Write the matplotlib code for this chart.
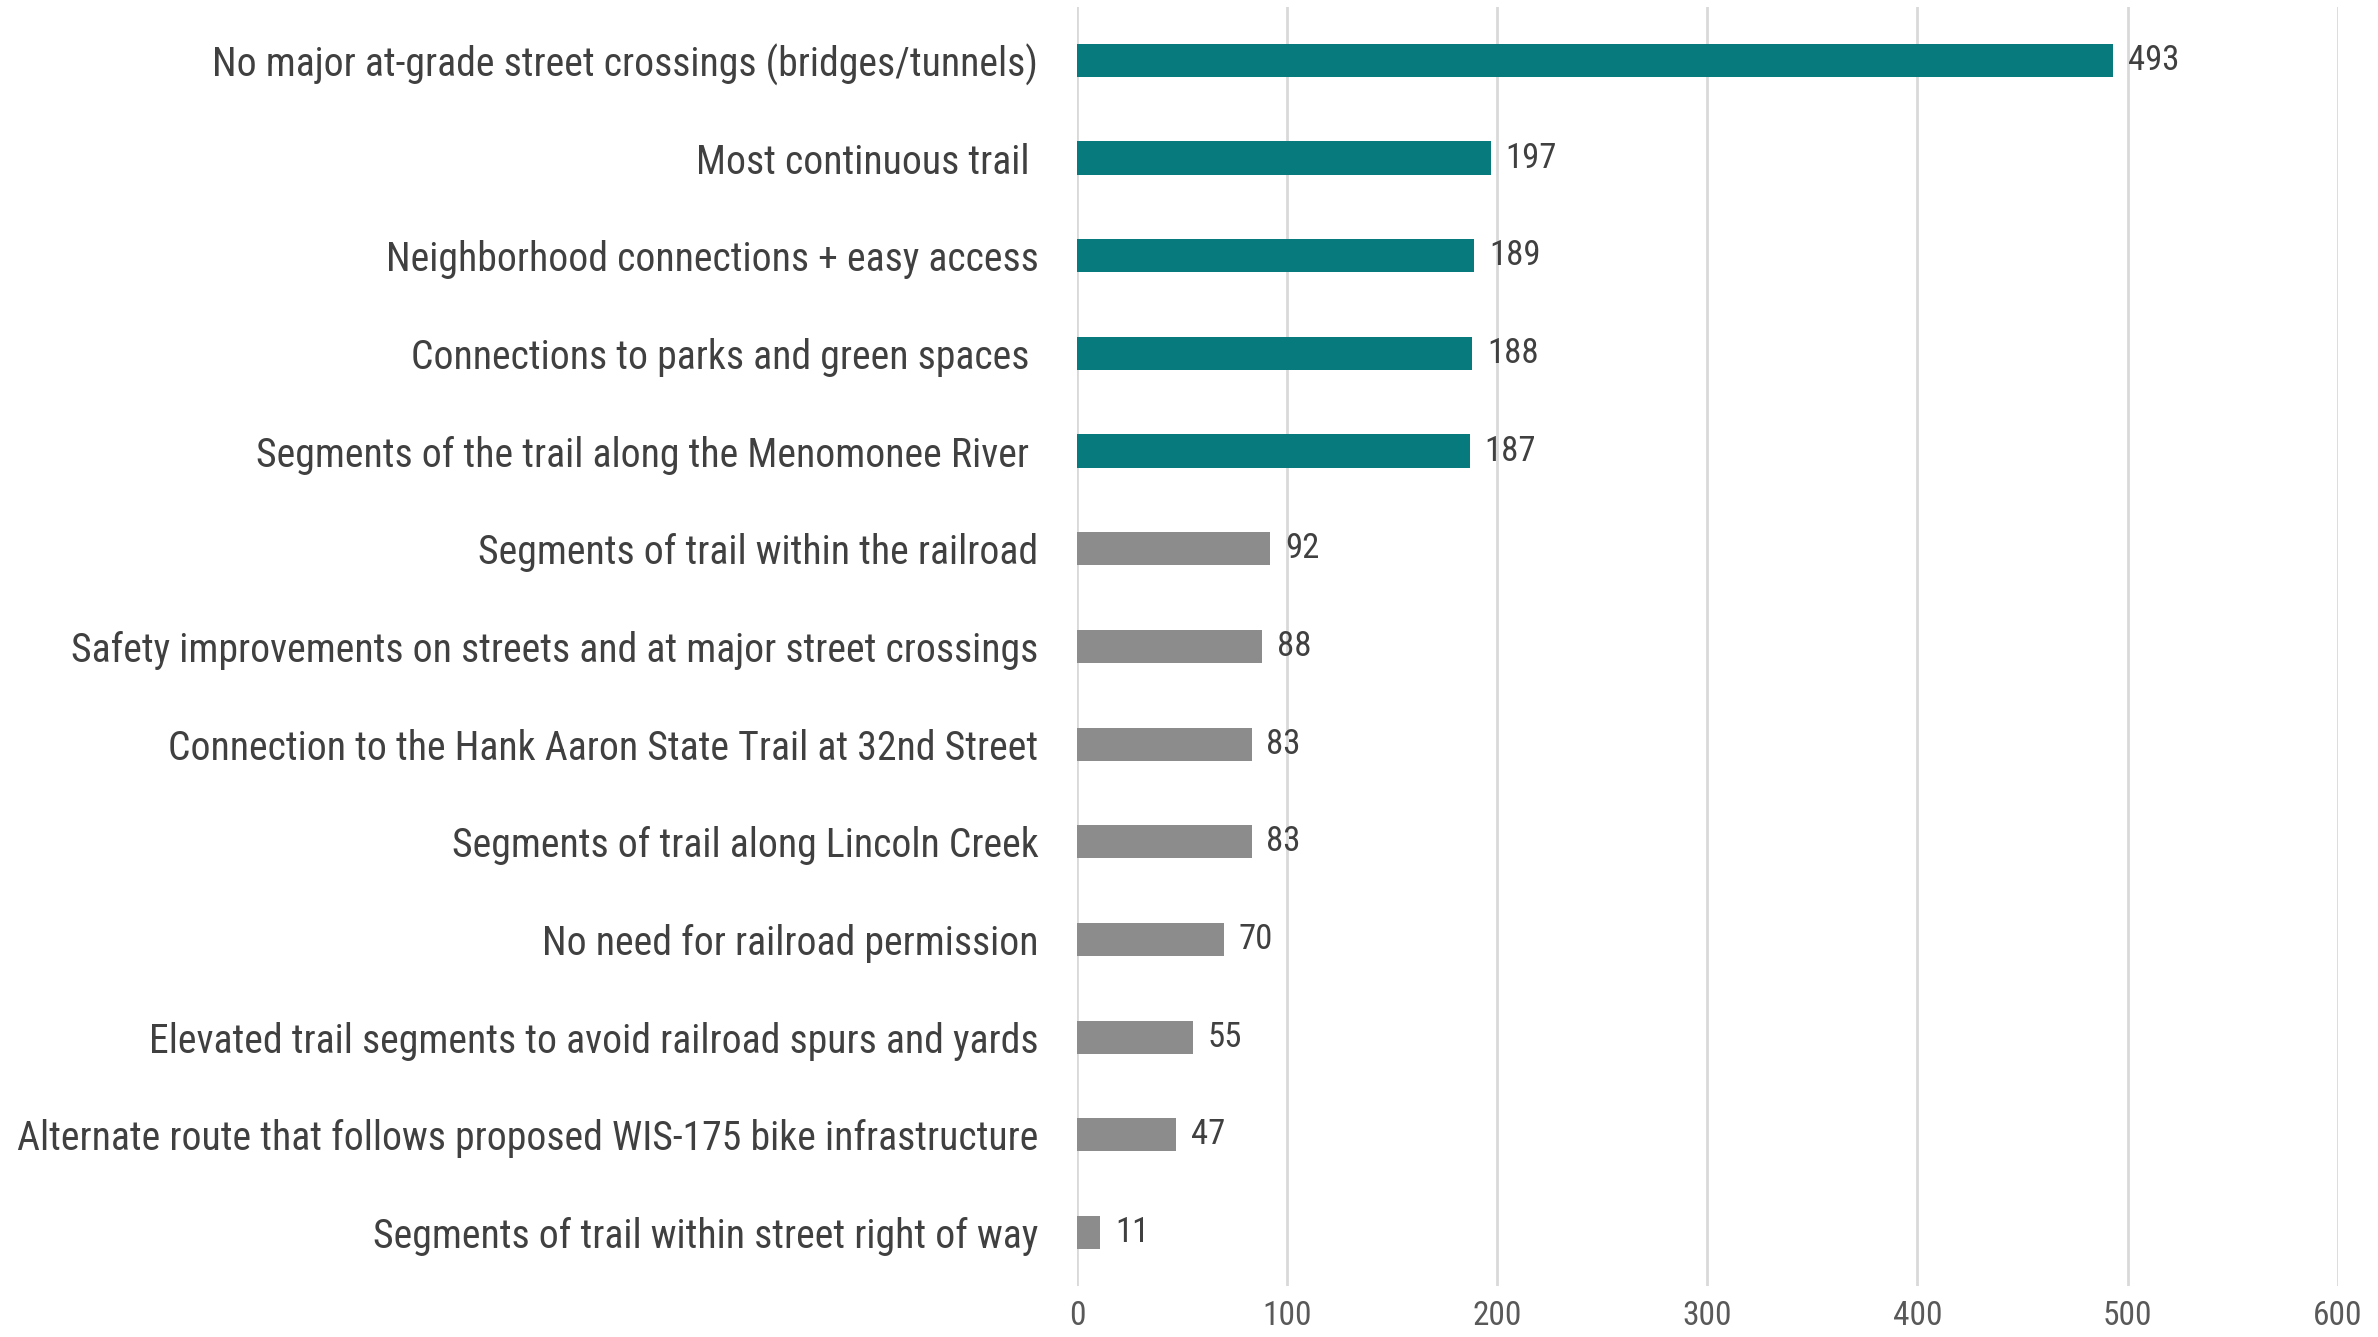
import matplotlib.pyplot as plt
from matplotlib import font_manager

categories = [
    "No major at-grade street crossings (bridges/tunnels)",
    "Most continuous trail ",
    "Neighborhood connections + easy access",
    "Connections to parks and green spaces ",
    "Segments of the trail along the Menomonee River ",
    "Segments of trail within the railroad",
    "Safety improvements on streets and at major street crossings",
    "Connection to the Hank Aaron State Trail at 32nd Street",
    "Segments of trail along Lincoln Creek",
    "No need for railroad permission",
    "Elevated trail segments to avoid railroad spurs and yards",
    "Alternate route that follows proposed WIS-175 bike infrastructure",
    "Segments of trail within street right of way",
]
values = [493, 197, 189, 188, 187, 92, 88, 83, 83, 70, 55, 47, 11]
highlight = [True] * 5 + [False] * 8
x_ticks = [0, 100, 200, 300, 400, 500, 600]

TEAL = "#077A7D"
GRAY = "#8C8C8C"
TEXT = "#404040"

available = {f.name for f in font_manager.fontManager.ttflist}
family = [f for f in ["Roboto Condensed", "Liberation Sans Narrow", "Open Sans Condensed",
                      "DejaVu Sans Condensed", "Roboto"] if f in available] + ["DejaVu Sans"]
plt.rcParams["font.family"] = family

fig = plt.figure(figsize=(11.89, 6.685), dpi=200)
ax = fig.add_axes([0.453, 0.038, 0.530, 0.957])

ypos = list(range(len(categories)))
colors = [TEAL if h else GRAY for h in highlight]
ax.barh(ypos, values, height=0.34, color=colors, zorder=3)

for y, v in zip(ypos, values):
    ax.text(v + 7, y, str(v), va="center", ha="left", fontsize=12.5, color=TEXT)

ax.set_ylim(len(categories) - 0.45, -0.55)
ax.set_xlim(0, 600)
ax.set_xticks(x_ticks)
ax.set_xticklabels([str(t) for t in x_ticks])
ax.set_yticks(ypos)
ax.set_yticklabels(categories)
ax.tick_params(axis="y", length=0, pad=14, labelsize=14.3, labelcolor=TEXT)
ax.tick_params(axis="x", length=0, pad=5, labelsize=12, labelcolor="#595959")
ax.grid(axis="x", color="#D9D9D9", linewidth=1.0, zorder=0)
for s in ax.spines.values():
    s.set_visible(False)

fig.savefig("out.png", dpi=200)
